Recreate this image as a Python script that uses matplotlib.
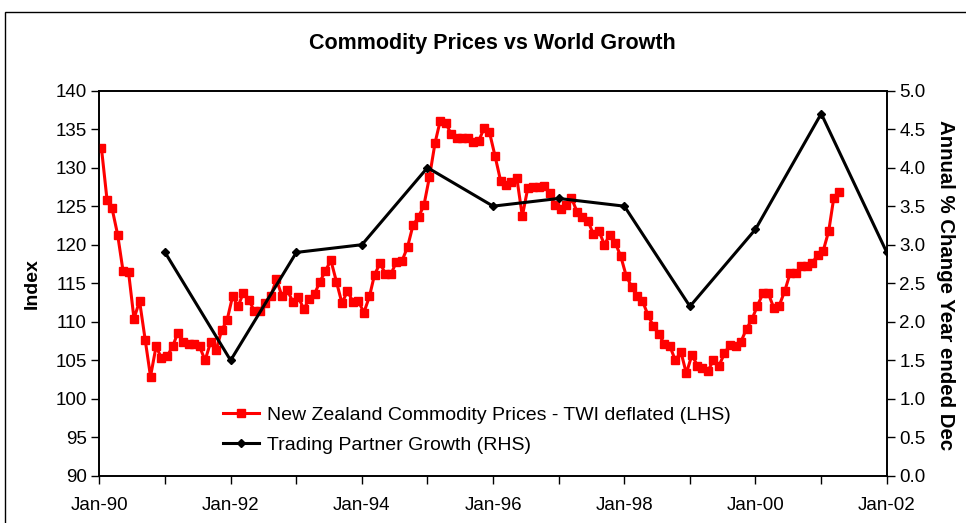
import matplotlib
matplotlib.use("Agg")
import matplotlib.pyplot as plt
import matplotlib.patches as mpatches
import pandas as pd

plt.rcParams['font.family'] = ['Liberation Sans', 'DejaVu Sans']

# Monthly NZ commodity prices (TWI deflated), Jan-90 .. Apr-01
commodity_start = "1990-01-01"
commodity = [
    132.5, 125.8, 124.7, 121.3, 116.6, 116.4, 110.4, 112.7, 107.7, 102.9, 106.8, 105.3,
    105.5, 106.8, 108.5, 107.4, 107.1, 107.1, 106.8, 105.0, 107.4, 106.3, 108.9, 110.2,
    113.3, 112.0, 113.8, 112.8, 111.4, 111.4, 112.5, 113.4, 115.5, 113.4, 114.1, 112.6,
    113.2, 111.6, 113.0, 113.6, 115.2, 116.6, 118.0, 115.2, 112.4, 114.0, 112.6, 112.7,
    111.2, 113.3, 116.1, 117.6, 116.2, 116.2, 117.8, 117.9, 119.7, 122.5, 123.6, 125.1,
    128.8, 133.2, 136.0, 135.8, 134.4, 133.8, 133.8, 133.9, 133.3, 133.4, 135.1, 134.6,
    131.5, 128.3, 127.7, 128.1, 128.7, 123.7, 127.3, 127.5, 127.5, 127.6, 126.7, 125.1,
    124.6, 125.2, 126.1, 124.3, 123.6, 123.1, 121.4, 121.8, 120.0, 121.3, 120.2, 118.5,
    115.9, 114.5, 113.3, 112.7, 110.9, 109.4, 108.4, 107.1, 106.8, 105.0, 106.1, 103.3,
    105.7, 104.3, 104.0, 103.6, 105.1, 104.3, 105.9, 107.0, 106.8, 107.4, 109.1, 110.3,
    112.1, 113.7, 113.7, 111.8, 112.1, 114.0, 116.3, 116.3, 117.2, 117.3, 117.6, 118.7,
    119.2, 121.8, 126.1, 126.9,
]

# Annual trading partner growth (RHS)
growth_years = [1991, 1992, 1993, 1994, 1995, 1996, 1997, 1998, 1999, 2000, 2001, 2002]
growth = [2.9, 1.5, 2.9, 3.0, 4.0, 3.5, 3.6, 3.5, 2.2, 3.2, 4.7, 2.9]

tick_years = list(range(1990, 2003))
left_ticks = list(range(90, 141, 5))
right_ticks = [i * 0.5 for i in range(11)]

c_dates = pd.date_range(commodity_start, periods=len(commodity), freq="MS") + pd.Timedelta(days=11)
g_dates = pd.to_datetime([f"{y}-01-01" for y in growth_years])

fig = plt.figure(figsize=(9.66, 5.23), dpi=100)
ax = fig.add_axes([0.103, 0.0899, 0.815, 0.737])
ax2 = ax.twinx()

# outer chart border (only left & top visible in reference)
fig.patches.append(mpatches.Rectangle((5 / 966, -0.1), 1.2, 1 - 12 / 523 + 0.1,
                                      transform=fig.transFigure, fill=False,
                                      edgecolor='black', linewidth=1.0))

l1, = ax.plot(c_dates, commodity, color='#ff0000', linewidth=2.2, marker='s',
              markersize=6, markerfacecolor='#ff0000', markeredgecolor='#ff0000',
              label='New Zealand Commodity Prices - TWI deflated (LHS)', zorder=3)
l2, = ax2.plot(g_dates, growth, color='black', linewidth=2.2, marker='D',
               markersize=4.5, label='Trading Partner Growth (RHS)', zorder=3)

ax.set_xlim(pd.Timestamp("1990-01-01"), pd.Timestamp("2002-01-01"))
ax.set_ylim(90, 140)
ax2.set_ylim(0, 5.0)

ax.set_yticks(left_ticks)
ax.set_yticklabels([str(v) for v in left_ticks])
ax2.set_yticks(right_ticks)
ax2.set_yticklabels([f"{v:.1f}" for v in right_ticks])

xt = pd.to_datetime([f"{y}-01-01" for y in tick_years])
ax.set_xticks(xt)
ax.set_xticklabels([f"Jan-{str(y)[2:]}" if y % 2 == 0 else "" for y in tick_years])

for a in (ax, ax2):
    a.tick_params(axis='both', direction='out', length=6, width=1, labelsize=13.5,
                  colors='black')
    for s in a.spines.values():
        s.set_linewidth(1.2)
ax.tick_params(axis='x', pad=9)
ax.tick_params(axis='y', pad=3)
ax2.tick_params(axis='y', pad=3)

ax.set_ylabel('Index', fontsize=14, fontweight='bold')
ax.yaxis.set_label_coords(-0.075, 0.5)
ax2.set_ylabel('Annual % Change Year ended Dec', fontsize=14.7, fontweight='bold',
               rotation=270, va='top')
ax2.yaxis.set_label_coords(1.087, 0.495)

fig.text(0.51, 0.916, 'Commodity Prices vs World Growth', ha='center', va='center',
         fontsize=15.5, fontweight='bold')

leg = ax.legend(handles=[l1, l2], loc='lower left', bbox_to_anchor=(0.147, 0.038),
                frameon=False, fontsize=14, handlelength=1.85, handletextpad=0.4,
                labelspacing=0.6, markerscale=0.9, borderaxespad=0.0)

fig.savefig('out.png', dpi=100, facecolor='white')
